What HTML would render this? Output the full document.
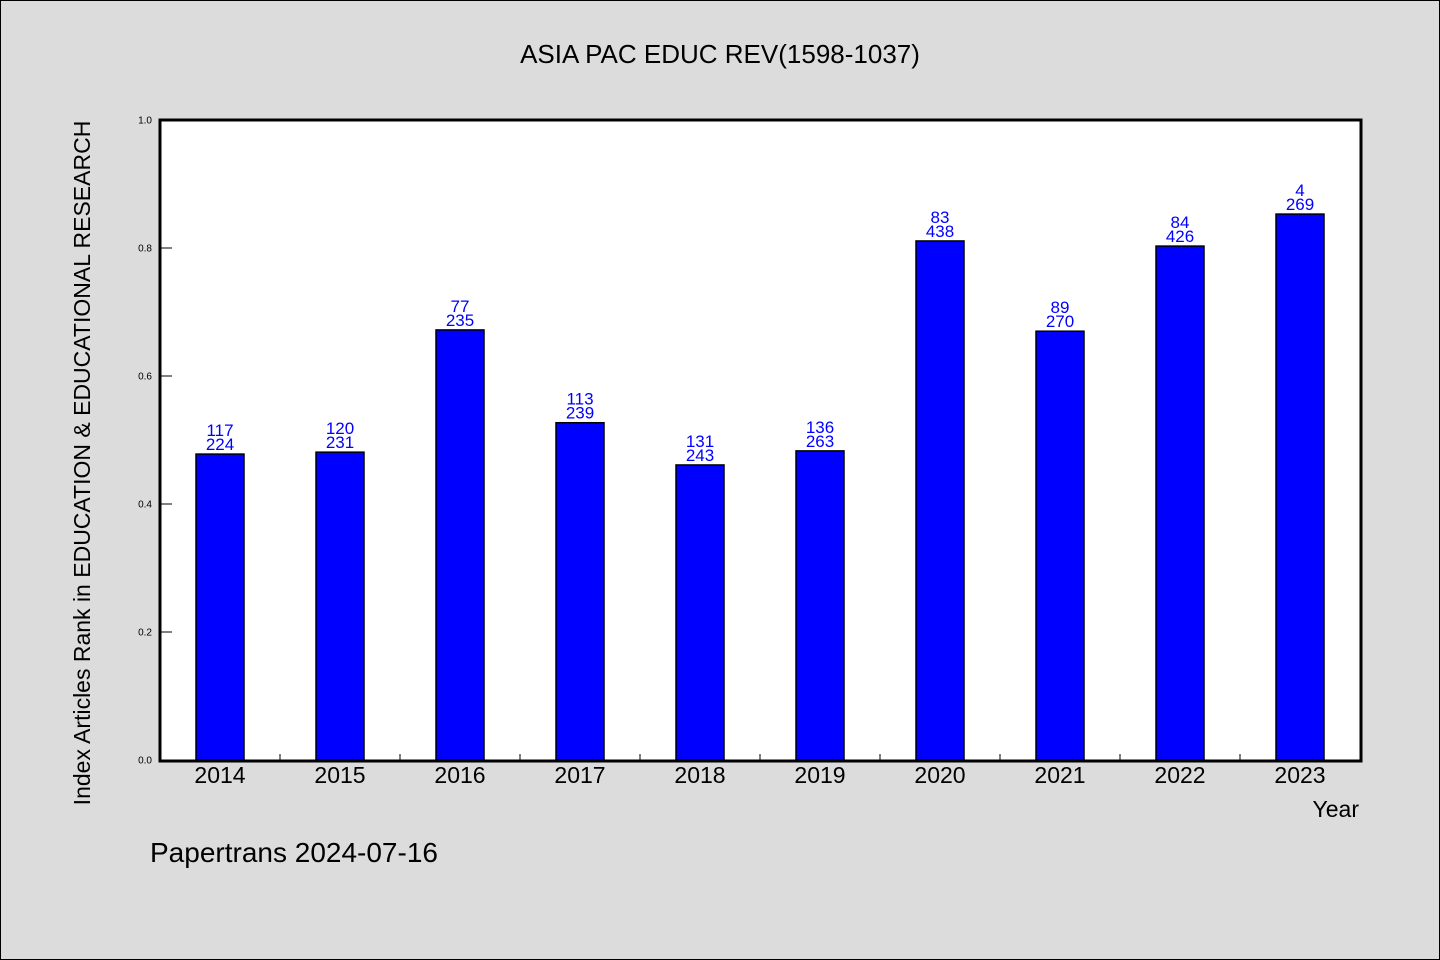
<!DOCTYPE html>
<html><head><meta charset="utf-8"><style>
body{margin:0;background:#dcdcdc;}
svg{display:block;font-family:"WenQuanYi Zen Hei","Liberation Sans",sans-serif;}
</style></head><body>
<svg id="chart" width="1440" height="960">
<rect x="0.5" y="0.5" width="1439" height="959" fill="#dcdcdc" stroke="#000"/>
<text x="720" y="63" font-size="26" text-anchor="middle">ASIA PAC EDUC REV(1598-1037)</text>
<rect x="160" y="120" width="1201" height="641" fill="#fff"/>
<g id="marks"></g>
<rect x="160" y="120" width="1201" height="641" fill="none" stroke="#000" stroke-width="3"/>
<text transform="translate(90,463) rotate(-90)" font-size="23" text-anchor="middle">Index Articles Rank in EDUCATION &amp; EDUCATIONAL RESEARCH</text>
<text x="1359" y="817" font-size="23" text-anchor="end">Year</text>
<text x="150" y="862" font-size="28">Papertrans 2024-07-16</text>
</svg>
<script>
const categories=["2014","2015","2016","2017","2018","2019","2020","2021","2022","2023"];
const values=[0.478,0.481,0.672,0.527,0.461,0.483,0.811,0.670,0.803,0.853];
const labelTop=["117","120","77","113","131","136","83","89","84","4"];
const labelBottom=["224","231","235","239","243","263","438","270","426","269"];
const yTicks=["0.0","0.2","0.4","0.6","0.8","1.0"];
const ns="http://www.w3.org/2000/svg";
const g=document.getElementById("marks");
const x0=160,band=120,y0=760,yH=640;
const xs=i=>x0+band*i+band/2;
const ys=v=>y0-v*yH;
function mk(t,a,txt){const e=document.createElementNS(ns,t);for(const k in a)e.setAttribute(k,a[k]);if(txt!==undefined)e.textContent=txt;g.appendChild(e);return e;}
yTicks.forEach(t=>{const v=parseFloat(t);const y=ys(v);
const l=mk("line",{x1:160,x2:172,y1:y,y2:y,stroke:"#000","stroke-width":1});


const tx=mk("text",{x:152,y:y+3.5,"font-size":10,"text-anchor":"end"},t);

});
categories.forEach((c,i)=>{
if(i>0){const l=mk("line",{x1:x0+band*i,x2:x0+band*i,y1:760,y2:754,stroke:"#000"});

}
const cx=xs(i),top=ys(values[i]);
const b=mk("rect",{x:cx-24,y:top,width:48,height:y0-top,fill:"#0000ff",stroke:"#000","stroke-width":1.5});


const t1=mk("text",{x:cx,y:top-18,"font-size":17,fill:"#0000ff","text-anchor":"middle"},labelTop[i]);


const t2=mk("text",{x:cx,y:top-4,"font-size":17,fill:"#0000ff","text-anchor":"middle"},labelBottom[i]);


const xl=mk("text",{x:cx,y:783,"font-size":23,"text-anchor":"middle"},c);


});
</script>
</body></html>
